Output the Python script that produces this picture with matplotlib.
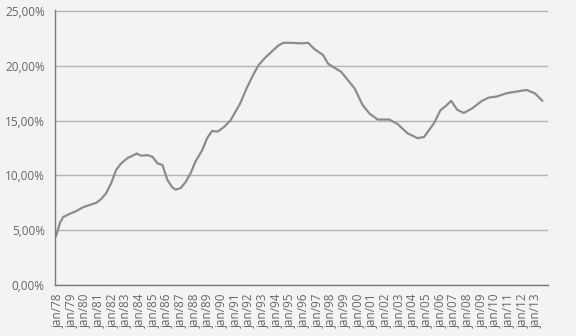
import matplotlib
matplotlib.use("Agg")
import matplotlib.pyplot as plt
from matplotlib.ticker import FuncFormatter

# Time (fractional year) and value (%)
years = [1977.76, 1977.88, 1978.12, 1978.36, 1978.85, 1979.34, 1979.82, 1980.30,
         1980.79, 1981.15, 1981.52, 1981.88, 1982.24, 1982.61, 1983.09, 1983.45,
         1983.74, 1984.06, 1984.54, 1984.90, 1985.27, 1985.63, 1985.99, 1986.36,
         1986.60, 1986.97, 1987.33, 1987.69, 1988.06, 1988.54, 1988.90, 1989.26,
         1989.68, 1990.12, 1990.60, 1990.97, 1991.33, 1991.81, 1992.30, 1992.66,
         1993.15, 1993.63, 1994.11, 1994.48, 1995.08, 1995.81, 1996.29, 1996.78,
         1997.02, 1997.38, 1997.75, 1997.99, 1998.71, 1999.20, 1999.69, 2000.29,
         2000.78, 2001.38, 2002.23, 2002.83, 2003.56, 2004.29, 2004.77, 2005.50,
         2005.98, 2006.34, 2006.76, 2007.20, 2007.68, 2008.28, 2009.01, 2009.50,
         2010.10, 2010.82, 2011.55, 2012.27, 2012.88, 2013.44]
values = [4.3, 4.6, 5.65, 6.2, 6.5, 6.75, 7.1, 7.3,
          7.5, 7.85, 8.4, 9.3, 10.5, 11.1, 11.6, 11.8,
          12.0, 11.8, 11.85, 11.7, 11.1, 10.95, 9.6, 8.9,
          8.7, 8.85, 9.4, 10.2, 11.3, 12.3, 13.4, 14.05,
          14.0, 14.4, 15.0, 15.8, 16.6, 18.0, 19.25, 20.05,
          20.75, 21.3, 21.85, 22.1, 22.1, 22.05, 22.1, 21.5,
          21.3, 21.0, 20.2, 20.0, 19.45, 18.7, 17.95, 16.4,
          15.65, 15.1, 15.1, 14.7, 13.85, 13.4, 13.5, 14.75,
          15.95, 16.3, 16.8, 16.0, 15.7, 16.1, 16.8, 17.1,
          17.2, 17.5, 17.65, 17.8, 17.5, 16.8]

tick_years = list(range(1978, 2014))
tick_labels = ["jan/%02d" % (y % 100) for y in tick_years]
y_ticks = [0, 5, 10, 15, 20, 25]

bg = "#f4f3f1"
text_col = "#666666"

fig = plt.figure(figsize=(5.76, 3.36), dpi=100, facecolor=bg)
ax = fig.add_axes([54.5 / 576, 1 - 285 / 336, (548.3 - 54.5) / 576, (285 - 9.5) / 336])
ax.set_facecolor(bg)

ax.plot(years, values, color="#8c8c8c", linewidth=1.6, solid_capstyle="round")

ax.set_xlim(1977.73, 2013.87)
ax.set_ylim(0, 25.14)
ax.set_yticks(y_ticks)
ax.yaxis.set_major_formatter(FuncFormatter(lambda v, p: ("%.2f%%" % v).replace(".", ",")))
ax.set_xticks(tick_years)
ax.set_xticklabels(tick_labels, rotation=90)

ax.grid(axis="y", color="#b4b4b4", linewidth=1.0)
ax.set_axisbelow(True)
for s in ["top", "right"]:
    ax.spines[s].set_visible(False)
for s in ["left", "bottom"]:
    ax.spines[s].set_color("#7a7a7a")
    ax.spines[s].set_linewidth(1.0)

ax.tick_params(axis="both", length=0, colors=text_col)
ax.tick_params(axis="y", pad=7)
ax.tick_params(axis="x", pad=6)
for lab in ax.get_xticklabels() + ax.get_yticklabels():
    lab.set_fontfamily("Open Sans")
    lab.set_fontsize(8.5)
    lab.set_color(text_col)

fig.savefig("out.png", dpi=100, facecolor=bg)
